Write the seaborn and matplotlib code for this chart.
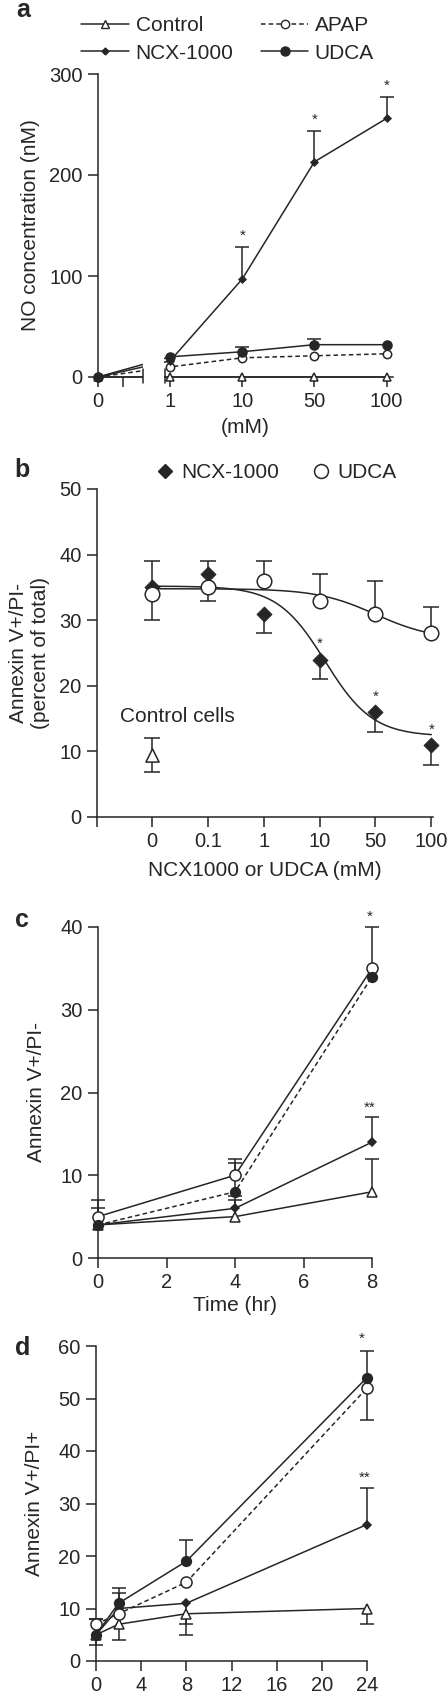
import numpy as np
import matplotlib
matplotlib.use("Agg")
import matplotlib.pyplot as plt
from matplotlib.lines import Line2D
from matplotlib.patches import Rectangle
import seaborn as sns

sns.set_style("ticks")
plt.rcParams["font.family"] = ["Liberation Sans", "DejaVu Sans"]

INK = "#262626"
LW = 1.1
W, H = 448, 1695
FS_TICK = 14.5
FS_LAB = 15

# ---- panel a: NO concentration (nM) vs dose
a_doses = ["0", "1", "10", "50", "100"]
a_control = [0, 0, 0, 0, 0]
a_apap = [0, 10, 19, 21, 23]
a_ncx = [0, 16, 97, 213, 256]
a_ncx_up = [0, 0, 32, 31, 21]
a_udca = [0, 20, 25, 32, 32]
a_udca_up = [0, 0, 5, 6, 0]
a_star_idx = [2, 3, 4]

# ---- panel b: Annexin V+/PI- (percent of total)
b_doses = ["0", "0.1", "1", "10", "50", "100"]
b_ncx = [35, 37, 31, 24, 16, 11]
b_ncx_lo = [5, 4, 3, 3, 3, 3]
b_udca = [34, 35, 36, 33, 31, 28]
b_udca_up = [5, 4, 3, 4, 5, 4]
b_control = 9.4
b_control_err = 2.6
b_star_idx = [3, 4, 5]
# sigmoid fit parameters (top, bottom, centre position, slope)
b_ncx_fit = (35.2, 12.3, 3.1, 2.35)
b_udca_fit = (34.8, 27.0, 4.0, 1.92)

# ---- panel c: Annexin V+/PI- over 8 hr
c_time = [0, 4, 8]
c_control = [4, 5, 8]
c_control_up = [0, 2, 4]
c_ncx = [4, 6, 14]
c_ncx_up = [0, 1.5, 3]
c_apap = [5, 10, 35]
c_apap_up = [2, 2, 5]
c_udca = [4, 8, 34]
c_udca_up = [2, 3.5, 0]

# ---- panel d: Annexin V+/PI+ over 24 hr
d_time = [0, 2, 8, 24]
d_control = [5, 7, 9, 10]
d_control_lo = [2, 3, 4, 3]
d_ncx = [5, 10, 11, 26]
d_ncx_up = [0, 0, 0, 7]
d_ncx_lo = [0, 0, 4, 0]
d_apap = [7, 9, 15, 52]
d_apap_up = [1, 4, 0, 0]
d_apap_lo = [0, 0, 0, 6]
d_udca = [5, 11, 19, 54]
d_udca_up = [3, 3, 4, 5]


def box(left, top, right, bottom):
    return [left / W, 1 - bottom / H, (right - left) / W, (bottom - top) / H]


def series(ax, x, y, marker, ms, face, ls="-", zorder=4):
    sns.lineplot(x=list(x), y=list(y), ax=ax, color=INK, linewidth=LW, linestyle=ls,
                 marker=marker, markersize=ms, markerfacecolor=face,
                 markeredgecolor=INK, markeredgewidth=LW, estimator=None,
                 sort=False, clip_on=False, zorder=zorder)


def err_bars(ax, x, y, err, side, capsize=5):
    x, y, err = (np.asarray(v, dtype=float) for v in (x, y, err))
    keep = err > 0
    if not keep.any():
        return
    zero = np.zeros(keep.sum())
    yerr = [zero, err[keep]] if side == "up" else [err[keep], zero]
    _, caps, _ = ax.errorbar(x[keep], y[keep], yerr=yerr, fmt="none", ecolor=INK,
                             elinewidth=LW, capsize=capsize, capthick=LW,
                             clip_on=False, zorder=3)
    caps[0 if side == "up" else 1].set_visible(False)


def style(ax):
    sns.despine(ax=ax)
    for s in ["left", "bottom"]:
        ax.spines[s].set_linewidth(LW)
        ax.spines[s].set_color(INK)
    ax.tick_params(which="both", length=7, width=LW, color=INK, labelsize=FS_TICK,
                   labelcolor=INK, pad=4)


def sigmoid(p, top, bottom, centre, slope):
    return bottom + (top - bottom) / (1 + np.exp((p - centre) * slope))


fig = plt.figure(figsize=(W / 100, H / 100), dpi=100)

# ================= a
ax = fig.add_axes(box(98, 74, 393, 377))
xa = np.arange(len(a_doses))
series(ax, xa, a_control, "^", 6, "white")
series(ax, xa, a_apap, "o", 6, "white", ls=(0, (3, 2)))
series(ax, xa, a_udca, "o", 6.5, INK)
series(ax, xa, a_ncx, "D", 3.5, INK)
err_bars(ax, xa, a_ncx, a_ncx_up, "up")
err_bars(ax, xa, a_udca, a_udca_up, "up")
for i in a_star_idx:
    ax.annotate("*", (xa[i], a_ncx[i] + a_ncx_up[i]), xytext=(0, 3),
                textcoords="offset points", ha="center", va="bottom",
                fontsize=11, color=INK)
ax.set_xlim(0, 4.09)
ax.set_ylim(0, 300)
ax.set_xticks(xa, a_doses)
ax.set_xticks([0.35], minor=True)
ax.set_yticks([0, 100, 200, 300])
ax.set_xlabel("(mM)", fontsize=FS_LAB, color=INK, labelpad=5)
ax.set_ylabel("NO concentration (nM)", fontsize=FS_LAB, color=INK, labelpad=7)
style(ax)
# axis break between 0 and 1
ax.add_patch(Rectangle((0.63, -0.03), 0.29, 1.05, transform=ax.get_xaxis_transform(),
                       facecolor="white", edgecolor="none", zorder=5, clip_on=False))
for bx in (0.62, 0.93):
    ax.plot([bx, bx], [-0.02, 0.025], transform=ax.get_xaxis_transform(),
            color=INK, lw=LW, clip_on=False, zorder=6)
handles = [
    Line2D([], [], color=INK, lw=LW, marker="^", ms=6, mfc="white", mec=INK),
    Line2D([], [], color=INK, lw=LW, marker="D", ms=3.5, mfc=INK, mec=INK),
    Line2D([], [], color=INK, lw=LW, ls=(0, (3, 2)), marker="o", ms=6, mfc="white", mec=INK),
    Line2D([], [], color=INK, lw=LW, marker="o", ms=6.5, mfc=INK, mec=INK),
]
fig.legend(handles, ["Control", "NCX-1000", "APAP", "UDCA"], ncol=2,
           loc="upper left", bbox_to_anchor=(71 / W, 1 - 6 / H), frameon=False,
           fontsize=FS_LAB, handlelength=2.3, handletextpad=0.3, columnspacing=1.3,
           labelspacing=0.4, borderpad=0, labelcolor=INK)

# ================= b
ax = fig.add_axes(box(97, 489, 433, 817))
xb = np.arange(len(b_doses))
pos = np.linspace(0, 5, 200)
ax.plot(pos, sigmoid(pos, *b_ncx_fit), color=INK, lw=LW, zorder=2)
ax.plot(pos, sigmoid(pos, *b_udca_fit), color=INK, lw=LW, zorder=2)
err_bars(ax, xb, b_udca, b_udca_up, "up", capsize=6)
err_bars(ax, xb, b_ncx, b_ncx_lo, "lo", capsize=6)
ax.errorbar([0], [b_control], yerr=[b_control_err], fmt="none", ecolor=INK,
            elinewidth=LW, capsize=6, capthick=LW, zorder=3)
sns.scatterplot(x=list(xb), y=b_ncx, ax=ax, marker="D", s=60, color=INK,
                edgecolor=INK, linewidth=0.5, clip_on=False, zorder=4)
sns.scatterplot(x=list(xb), y=b_udca, ax=ax, marker="o", s=110, facecolor="white",
                edgecolor=INK, linewidth=LW, clip_on=False, zorder=4)
sns.scatterplot(x=[0], y=[b_control], ax=ax, marker="^", s=90, facecolor="white",
                edgecolor=INK, linewidth=LW, zorder=4)
for i in b_star_idx:
    ax.annotate("*", (xb[i], b_ncx[i]), xytext=(0, 6), textcoords="offset points",
                ha="center", va="bottom", fontsize=11, color=INK)
ax.text(-0.57, 15.3, "Control cells", fontsize=FS_LAB, color=INK, va="center")
ax.set_xlim(-0.98, 5.03)
ax.set_ylim(0, 50)
ax.set_xticks([-0.98] + list(xb), [""] + b_doses)
ax.set_yticks(range(0, 51, 10))
ax.set_xlabel("NCX1000 or UDCA (mM)", fontsize=FS_LAB, color=INK, labelpad=7)
ax.set_ylabel("Annexin V+/PI-\n(percent of total)", fontsize=FS_LAB, color=INK,
              labelpad=7, linespacing=1.15)
style(ax)
hb = [Line2D([], [], ls="none", marker="D", ms=7.5, mfc=INK, mec=INK),
      Line2D([], [], ls="none", marker="o", ms=10, mfc="white", mec=INK, mew=LW)]
fig.legend(hb, ["NCX-1000", "UDCA"], ncol=2, loc="center left",
           bbox_to_anchor=(146 / W, 1 - 473 / H), frameon=False, fontsize=FS_LAB,
           handlelength=0.8, handletextpad=0.4, columnspacing=1.6, borderpad=0,
           labelcolor=INK)

# ================= c
ax = fig.add_axes(box(98, 927, 372, 1258))
series(ax, c_time, c_control, "^", 7.5, "white")
series(ax, c_time, c_ncx, "D", 4, INK)
series(ax, c_time, c_apap, "o", 8, "white")
series(ax, c_time, c_udca, "o", 7, INK, ls=(0, (3, 2)))
err_bars(ax, c_time, c_control, c_control_up, "up")
err_bars(ax, c_time, c_ncx, c_ncx_up, "up")
err_bars(ax, c_time, c_apap, c_apap_up, "up")
err_bars(ax, c_time, c_udca, c_udca_up, "up")
ax.annotate("*", (8, c_apap[-1] + c_apap_up[-1]), xytext=(-2, 2),
            textcoords="offset points", ha="center", va="bottom", fontsize=11, color=INK)
ax.annotate("**", (8, c_ncx[-1] + c_ncx_up[-1]), xytext=(-2, 2),
            textcoords="offset points", ha="center", va="bottom", fontsize=11, color=INK)
ax.set_xlim(0, 8)
ax.set_ylim(0, 40)
ax.set_xticks(range(0, 9, 2))
ax.set_yticks(range(0, 41, 10))
ax.set_xlabel("Time (hr)", fontsize=FS_LAB, color=INK, labelpad=3)
ax.set_ylabel("Annexin V+/PI-", fontsize=FS_LAB, color=INK, labelpad=10)
style(ax)

# ================= d
ax = fig.add_axes(box(96, 1346, 367, 1661))
series(ax, d_time, d_control, "^", 7.5, "white")
series(ax, d_time, d_ncx, "D", 4, INK)
series(ax, d_time, d_apap, "o", 8, "white", ls=(0, (3, 2)))
series(ax, d_time, d_udca, "o", 7, INK)
err_bars(ax, d_time, d_control, d_control_lo, "lo")
err_bars(ax, d_time, d_ncx, d_ncx_up, "up")
err_bars(ax, d_time, d_ncx, d_ncx_lo, "lo")
err_bars(ax, d_time, d_apap, d_apap_up, "up")
err_bars(ax, d_time, d_apap, d_apap_lo, "lo")
err_bars(ax, d_time, d_udca, d_udca_up, "up")
ax.annotate("*", (24, d_udca[-1] + d_udca_up[-1]), xytext=(-4, 4),
            textcoords="offset points", ha="center", va="bottom", fontsize=11, color=INK)
ax.annotate("**", (24, d_ncx[-1] + d_ncx_up[-1]), xytext=(-2, 2),
            textcoords="offset points", ha="center", va="bottom", fontsize=11, color=INK)
ax.set_xlim(0, 24)
ax.set_ylim(0, 60)
ax.set_xticks(range(0, 25, 4))
ax.set_yticks(range(0, 61, 10))
ax.set_ylabel("Annexin V+/PI+", fontsize=FS_LAB, color=INK, labelpad=10)
style(ax)

for lab, (px, py) in zip("abcd", [(23, 10), (22, 470), (22, 920), (23, 1348)]):
    fig.text(px / W, 1 - py / H, lab, fontsize=18, fontweight="bold", color=INK,
             ha="center", va="center")

fig.savefig("out.png", dpi=100)
